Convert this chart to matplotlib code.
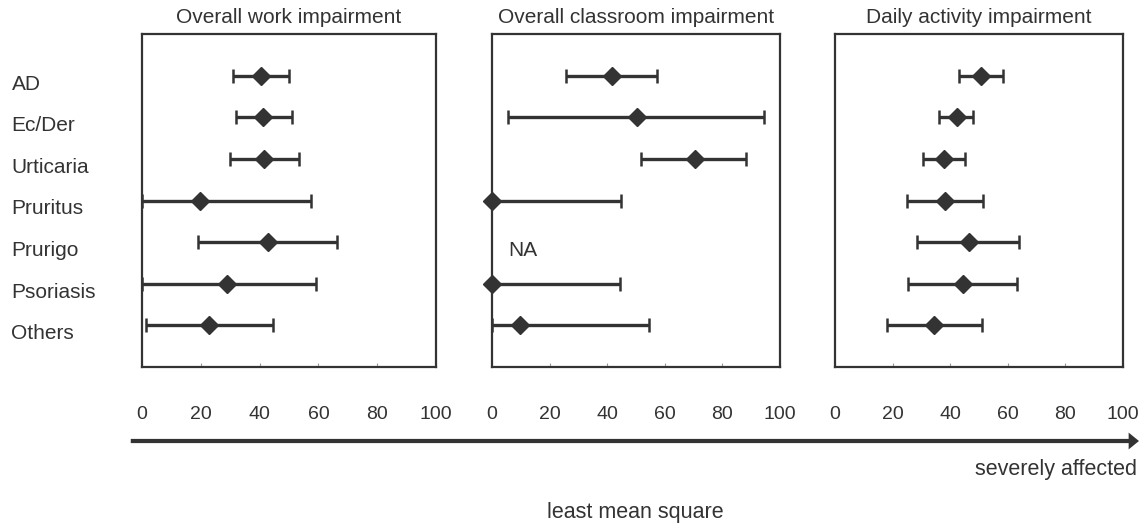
import numpy as np
import matplotlib
matplotlib.use("Agg")
import matplotlib.pyplot as plt
from matplotlib.transforms import blended_transform_factory

plt.rcParams['font.family'] = ['Liberation Sans', 'DejaVu Sans']

# Categories (top to bottom)
diseases = ["AD", "Ec/Der", "Urticaria", "Pruritus", "Prurigo", "Psoriasis", "Others"]

# Overall work impairment: mean, lower, upper
work_mean = [40.5, 41.3, 41.6, 19.7, 42.7, 28.8, 22.9]
work_low = [30.8, 31.9, 29.9, 0.0, 19.2, 0.0, 1.2]
work_high = [50.1, 50.9, 53.5, 57.4, 66.4, 59.2, 44.7]

# Overall classroom impairment (Prurigo = NA)
class_mean = [41.6, 50.3, 70.4, 0.0, np.nan, 0.0, 9.7]
class_low = [25.7, 5.4, 51.8, 0.0, np.nan, 0.0, 0.0]
class_high = [57.3, 94.4, 88.1, 44.8, np.nan, 44.5, 54.6]

# Daily activity impairment
daily_mean = [50.6, 42.2, 37.8, 38.2, 46.5, 44.3, 34.5]
daily_low = [43.1, 36.1, 30.4, 24.9, 28.6, 25.5, 18.2]
daily_high = [58.2, 48.0, 45.1, 51.3, 63.9, 63.1, 50.9]

titles = ["Overall work impairment", "Overall classroom impairment", "Daily activity impairment"]
x_ticks = [0, 20, 40, 60, 80, 100]

col = "#333333"

fig = plt.figure(figsize=(11.47, 5.25), dpi=100)
lefts = [0.1238, 0.4289, 0.728]
widths = [0.2563, 0.2511, 0.2511]

panels = [
    (work_mean, work_low, work_high),
    (class_mean, class_low, class_high),
    (daily_mean, daily_low, daily_high),
]

axes = []
for i, (m, lo, hi) in enumerate(panels):
    ax = fig.add_axes([lefts[i], 0.301, widths[i], 0.634])
    m = np.array(m, dtype=float)
    lo = np.array(lo, dtype=float)
    hi = np.array(hi, dtype=float)
    y = np.arange(len(diseases))
    err = np.vstack([m - lo, hi - m])
    ax.errorbar(m, y, xerr=err, fmt='D', color=col, ecolor=col,
                markersize=9, elinewidth=2.4, capsize=5, capthick=1.8,
                clip_on=False, zorder=3)
    ax.set_xlim(0, 100)
    ax.set_ylim(7.0, -1.0)
    ax.set_yticks([])
    ax.set_xticks(x_ticks)
    ax.set_xticklabels([str(t) for t in x_ticks], fontsize=14, color=col)
    ax.tick_params(axis='x', direction='in', length=3, width=0.8,
                   colors='#999999', labelcolor=col, pad=28)
    for s in ax.spines.values():
        s.set_linewidth(1.6)
        s.set_color(col)
    fig.text(lefts[i] + widths[i] / 2, 0.966, titles[i], ha='center',
             va='center', fontsize=15, color=col)
    axes.append(ax)

# Disease labels on the left
trans = blended_transform_factory(fig.transFigure, axes[0].transData)
for k, name in enumerate(diseases):
    axes[0].text(0.010, k + 0.2, name, transform=trans, ha='left',
                 va='center', fontsize=15, color=col)

axes[1].text(5.5, 4.2, "NA", ha='left', va='center', fontsize=15, color=col)

# Arrow below
fig.patches.append(matplotlib.patches.FancyArrow(
    0.114, 0.16, 0.870, 0, width=0.008, head_width=0.032, head_length=0.009,
    length_includes_head=False, transform=fig.transFigure, color=col, lw=0))

fig.text(0.991, 0.105, "severely affected", ha='right', va='center',
         fontsize=15.5, color=col)
fig.text(0.554, 0.023, "least mean square", ha='center', va='center',
         fontsize=15.5, color=col)

fig.savefig("out.png", dpi=100, facecolor='white')
